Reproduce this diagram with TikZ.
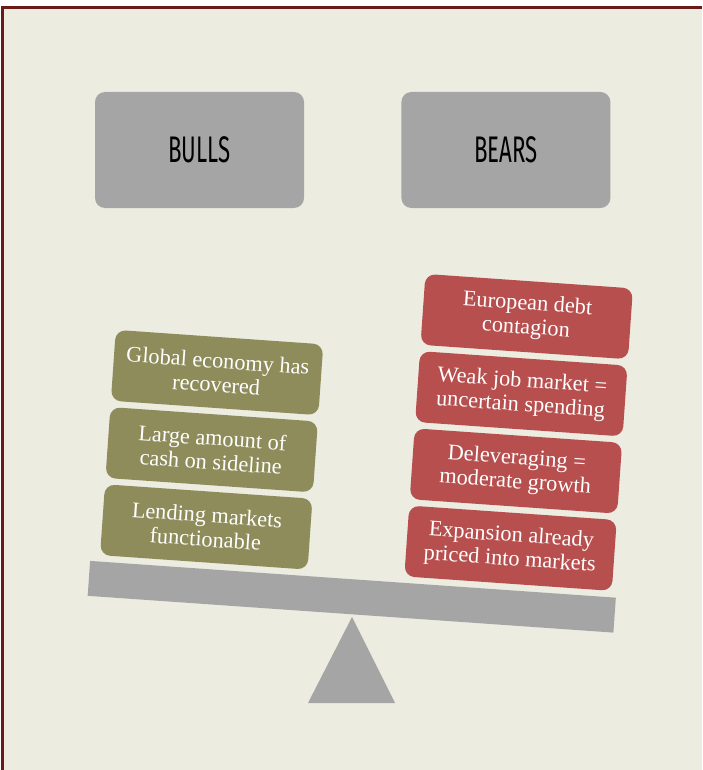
\documentclass[tikz,border=0pt]{standalone}
\usepackage{fontspec}
\setmainfont{Liberation Serif}
\newfontfamily\headfont[FakeStretch=0.6]{Fira Sans}
\usepackage{tikz}
\definecolor{pageBg}{RGB}{236,236,225}
\definecolor{frameRed}{RGB}{106,27,23}
\definecolor{boxGray}{RGB}{165,165,165}
\definecolor{bullGreen}{RGB}{142,140,91}
\definecolor{bearRed}{RGB}{183,79,78}
\usetikzlibrary{positioning}
\tikzstyle{header} = [fill=boxGray, rounded corners=10pt, minimum width=209pt, minimum height=116pt, inner sep=0pt, font=\headfont\fontsize{37}{40}\selectfont]
\tikzstyle{reason} = [rounded corners=10pt, minimum width=208pt, minimum height=71pt, inner sep=0pt, align=center, text=white, font=\fontsize{22.3}{24}\selectfont]
\tikzstyle{bull} = [reason, fill=bullGreen]
\tikzstyle{bear} = [reason, fill=bearRed]
\tikzstyle{beamBar} = [fill=boxGray, minimum width=527pt, minimum height=35pt, inner sep=0pt]

\begin{document}
\begin{tikzpicture}[x=1pt, y=-1pt]
        % Page, frame and its two dark edges
        \useasboundingbox (0,0) rectangle (702,770);
        \fill[white] (0,0) rectangle (702,770);
        \fill[pageBg] (1,6) rectangle (702,770);
        \draw[frameRed, line width=3pt] (2.5,770) -- (2.5,7.5) -- (702,7.5);

        % The two headings
        \node [header] (bullsLabel) at (199.5,150) {BULLS};
        \node [header, right=97pt of bullsLabel] (bearsLabel) {BEARS};

        % Pivot under the beam
        \coordinate (pivotTop) at (352,617);
        \coordinate (pivotLeft) at (308,703);
        \coordinate (pivotRight) at (395,703);
        \fill[boxGray] (pivotTop) -- (pivotLeft) -- (pivotRight) -- cycle;

        % Beam and the weights, tilted together
        \begin{scope}[shift={(351.75,596.75)}, rotate=-4, transform shape]
            \node [beamBar] (beam) at (0,0) {};
            \node [bull] (lending) at (-150,-59.5) {Lending markets\\functionable};
            \node [bull, above=6pt of lending] (cashPile) {Large amount of\\cash on sideline};
            \node [bull, above=6pt of cashPile] (recovery) {Global economy has\\recovered};
            \node [bear] (pricedIn) at (155,-59.5) {Expansion already\\priced into markets};
            \node [bear, above=6pt of pricedIn] (delever) {Deleveraging =\\moderate growth};
            \node [bear, above=6pt of delever] (jobMarket) {Weak job market =\\uncertain spending};
            \node [bear, above=6pt of jobMarket] (debtCrisis) {European debt\\contagion};
        \end{scope}
    \end{tikzpicture}
\end{document}
